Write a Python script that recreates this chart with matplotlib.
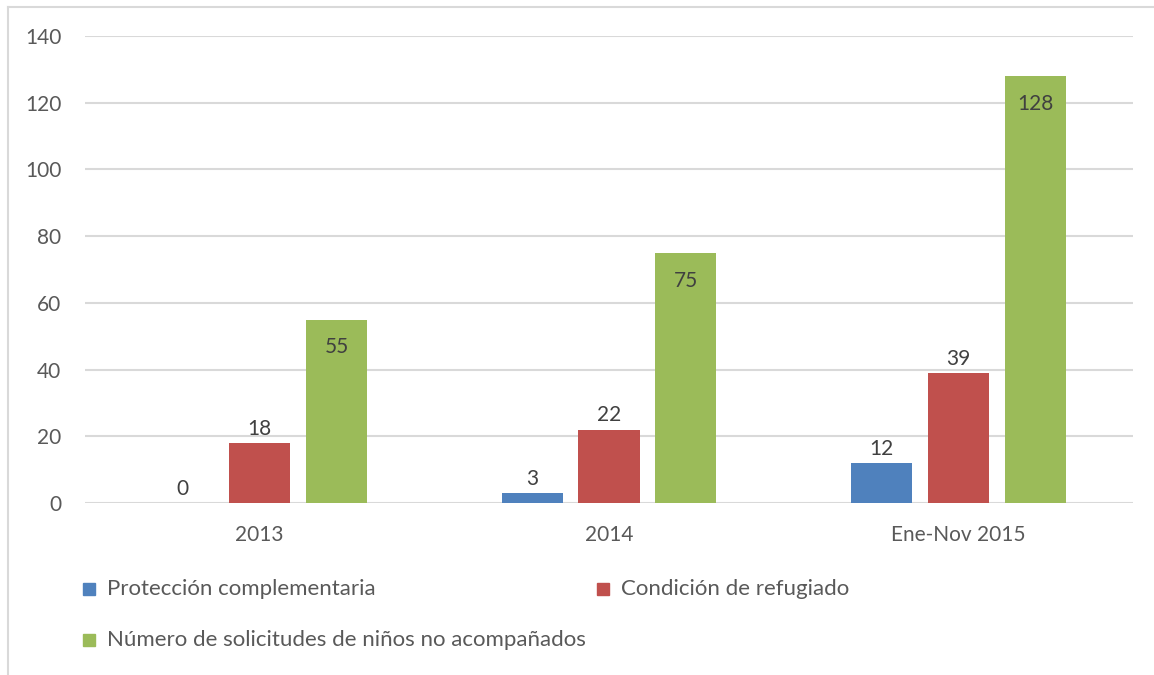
import matplotlib
matplotlib.use("Agg")
import matplotlib.pyplot as plt
from matplotlib.lines import Line2D
from matplotlib.patches import Rectangle
import numpy as np

# data
categories = ["2013", "2014", "Ene-Nov 2015"]
series_names = ["Protección complementaria", "Condición de refugiado",
                "Número de solicitudes de niños no acompañados"]
proteccion = [0, 3, 12]
refugiado = [18, 22, 39]
solicitudes = [55, 75, 128]
y_ticks = [0, 20, 40, 60, 80, 100, 120, 140]

COLORS = ["#4F81BD", "#C0504D", "#9BBB59"]
GRID = "#D9D9D9"
TXT = "#595959"
LBL = "#404040"

plt.rcParams['font.family'] = ['Lato', 'DejaVu Sans']

fig = plt.figure(figsize=(11.54, 6.75), dpi=100)
W, H = 1154, 675
ax = fig.add_axes([85 / W, 1 - 503 / H, (1133 - 85) / W, (503 - 36) / H])

x = np.arange(len(categories))
width = 0.175
step = 0.22
all_series = [proteccion, refugiado, solicitudes]

bars = []
for i, vals in enumerate(all_series):
    b = ax.bar(x + (i - 1) * step, vals, width, color=COLORS[i], zorder=3)
    bars.append(b)

# value labels: first two outside, last one inside near the top
ax.bar_label(bars[0], padding=3, fontsize=15, color=LBL)
ax.bar_label(bars[1], padding=3, fontsize=15, color=LBL)
for rect, v in zip(bars[2], solicitudes):
    ax.annotate(str(v), (rect.get_x() + rect.get_width() / 2, v),
                xytext=(0, -20), textcoords="offset points",
                ha="center", va="center", fontsize=15, color=LBL)

ax.set_xlim(-0.5, len(categories) - 0.5)
ax.set_ylim(0, 140)
ax.set_yticks(y_ticks)
ax.set_xticks(x)
ax.set_xticklabels(categories)
ax.tick_params(axis="both", length=0, labelsize=15, labelcolor=TXT)
ax.tick_params(axis="x", pad=16)
ax.tick_params(axis="y", pad=17)
ax.grid(axis="y", color=GRID, linewidth=1.5, zorder=0)
for s in ax.spines.values():
    s.set_visible(False)

# legend, placed by hand like the original
leg_pos = [(83, 589), (597, 589), (83, 640)]
for (lx, ly), name, c in zip(leg_pos, series_names, COLORS):
    fig.add_artist(Rectangle((lx / W, 1 - (ly + 6) / H), 12 / W, 12 / H,
                             transform=fig.transFigure, color=c))
    fig.text((lx + 24) / W, 1 - ly / H, name, fontsize=16, color=TXT,
             va="center", ha="left")

# chart border (only top and left visible in the crop)
fig.add_artist(Line2D([8 / W, 8 / W], [0, 1 - 7 / H], transform=fig.transFigure,
                      color="#D9D9D9", linewidth=1.5))
fig.add_artist(Line2D([8 / W, 1], [1 - 7 / H, 1 - 7 / H], transform=fig.transFigure,
                      color="#D9D9D9", linewidth=1.5))

plt.savefig("out.png", dpi=100)
